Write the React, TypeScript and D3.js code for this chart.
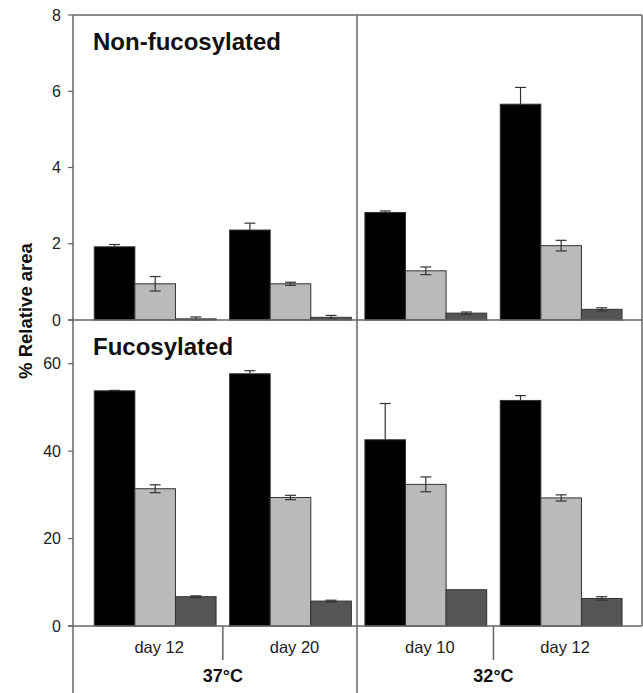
import React from 'react';
import * as d3 from 'd3';

const categories = ['day 12', 'day 20', 'day 10', 'day 12'];
const temps = ['37°C', '32°C'];
const series = ['s1', 's2', 's3'];
const seriesColors = ['#000000', '#bababa', '#555555'];

// Non-fucosylated
const nonFucBlack = [1.92, 2.36, 2.82, 5.66];
const nonFucGray = [0.95, 0.95, 1.29, 1.95];
const nonFucDark = [0.03, 0.07, 0.18, 0.28];
const nonFucBlackErr = [0.06, 0.18, 0.04, 0.44];
const nonFucGrayErr = [0.19, 0.04, 0.1, 0.14];
const nonFucDarkErr = [0.05, 0.05, 0.03, 0.04];

// Fucosylated
const fucBlack = [53.8, 57.7, 42.6, 51.6];
const fucGray = [31.4, 29.4, 32.4, 29.3];
const fucDark = [6.7, 5.7, 8.3, 6.3];
const fucBlackErr = [0.1, 0.7, 8.3, 1.1];
const fucGrayErr = [0.9, 0.5, 1.7, 0.7];
const fucDarkErr = [0.2, 0.2, 0, 0.4];

const topTicks = [0, 2, 4, 6, 8];
const bottomTicks = [0, 20, 40, 60];

const W = 643;
const H = 693;
const axisColor = '#666';
const FONT = '"Liberation Sans", Arial, sans-serif';

export default function App() {
  const left = 73;
  const right = 642;
  const top = 15;
  const mid = 320;
  const bottom = 626;

  const x = d3.scaleBand<number>().domain([0, 1, 2, 3]).range([87.5, 628.8]).paddingInner(0).paddingOuter(0);
  const bw = x.bandwidth();
  const xs = d3.scaleBand<string>().domain(series).range([bw * 0.05, bw * 0.95]).padding(0);

  const yTop = d3.scaleLinear().domain([0, 8]).range([mid, top]);
  const yBot = d3.scaleLinear().domain([0, 70]).range([bottom, mid]);

  const panels = [
    { y: yTop, ticks: topTicks, means: [nonFucBlack, nonFucGray, nonFucDark], errs: [nonFucBlackErr, nonFucGrayErr, nonFucDarkErr], title: 'Non-fucosylated', titleY: 50 },
    { y: yBot, ticks: bottomTicks, means: [fucBlack, fucGray, fucDark], errs: [fucBlackErr, fucGrayErr, fucDarkErr], title: 'Fucosylated', titleY: 355 },
  ];

  const midX = 357;

  return (
    <svg width={W} height={H} style={{ position: 'absolute', left: 0, top: 0, background: '#fff' }} fontFamily={FONT}>
      <rect x={0} y={0} width={W} height={H} fill="#fff" />
      {panels.map((p, pi) => (
        <g key={pi}>
          {p.means.map((vals, si) =>
            vals.map((v, ci) => {
              const bx = (x(ci) as number) + (xs(series[si]) as number);
              const bwid = xs.bandwidth();
              const y0 = p.y(0);
              const yv = p.y(v);
              const e = p.errs[si][ci];
              const cx = bx + bwid / 2;
              const lo = si === 0 ? v : Math.max(0, v - e);
              return (
                <g key={`${si}-${ci}`}>
                  <rect x={bx} y={yv} width={bwid} height={Math.max(0, y0 - yv)} fill={seriesColors[si]} stroke="#333" strokeWidth={1} />
                  {e > 0 && (
                    <g stroke="#333" strokeWidth={1.2}>
                      <line x1={cx} x2={cx} y1={p.y(v + e)} y2={p.y(lo)} />
                      <line x1={cx - 5.5} x2={cx + 5.5} y1={p.y(v + e)} y2={p.y(v + e)} />
                      {si !== 0 && <line x1={cx - 5.5} x2={cx + 5.5} y1={p.y(lo)} y2={p.y(lo)} />}
                    </g>
                  )}
                </g>
              );
            })
          )}
          {p.ticks.map((t) => (
            <g key={t}>
              <line x1={left - 5} x2={left} y1={p.y(t)} y2={p.y(t)} stroke={axisColor} strokeWidth={1.2} />
              <text x={left - 12} y={p.y(t)} textAnchor="end" dominantBaseline="central" fontSize={16} fill="#222">
                {t}
              </text>
            </g>
          ))}
          <text x={93} y={p.titleY} fontSize={24} fontWeight="bold" fill="#111">
            {p.title}
          </text>
        </g>
      ))}

      {/* frame lines */}
      <g stroke={axisColor} strokeWidth={1.5} fill="none">
        <line x1={left} x2={left} y1={top} y2={H} />
        <line x1={left} x2={right} y1={top} y2={top} />
        <line x1={right} x2={right} y1={top} y2={bottom} />
        <line x1={left - 5} x2={right} y1={mid} y2={mid} />
        <line x1={left - 5} x2={right} y1={bottom} y2={bottom} />
        <line x1={midX} x2={midX} y1={top} y2={H} />
        <line x1={x(1) as number} x2={x(1) as number} y1={bottom} y2={660} />
        <line x1={x(3) as number} x2={x(3) as number} y1={bottom} y2={660} />
      </g>

      {categories.map((c, ci) => (
        <text key={ci} x={(x(ci) as number) + bw / 2 + 4} y={653} textAnchor="middle" fontSize={16.5} fill="#222">
          {c}
        </text>
      ))}
      {temps.map((t, ti) => (
        <text key={t} x={x(ti * 2 + 1) as number} y={682} textAnchor="middle" fontSize={18} fontWeight="bold" fill="#111">
          {t}
        </text>
      ))}

      <text transform={`translate(32, 311) rotate(-90)`} textAnchor="middle" fontSize={18.5} fontWeight="bold" fill="#111">
        % Relative area
      </text>
    </svg>
  );
}
